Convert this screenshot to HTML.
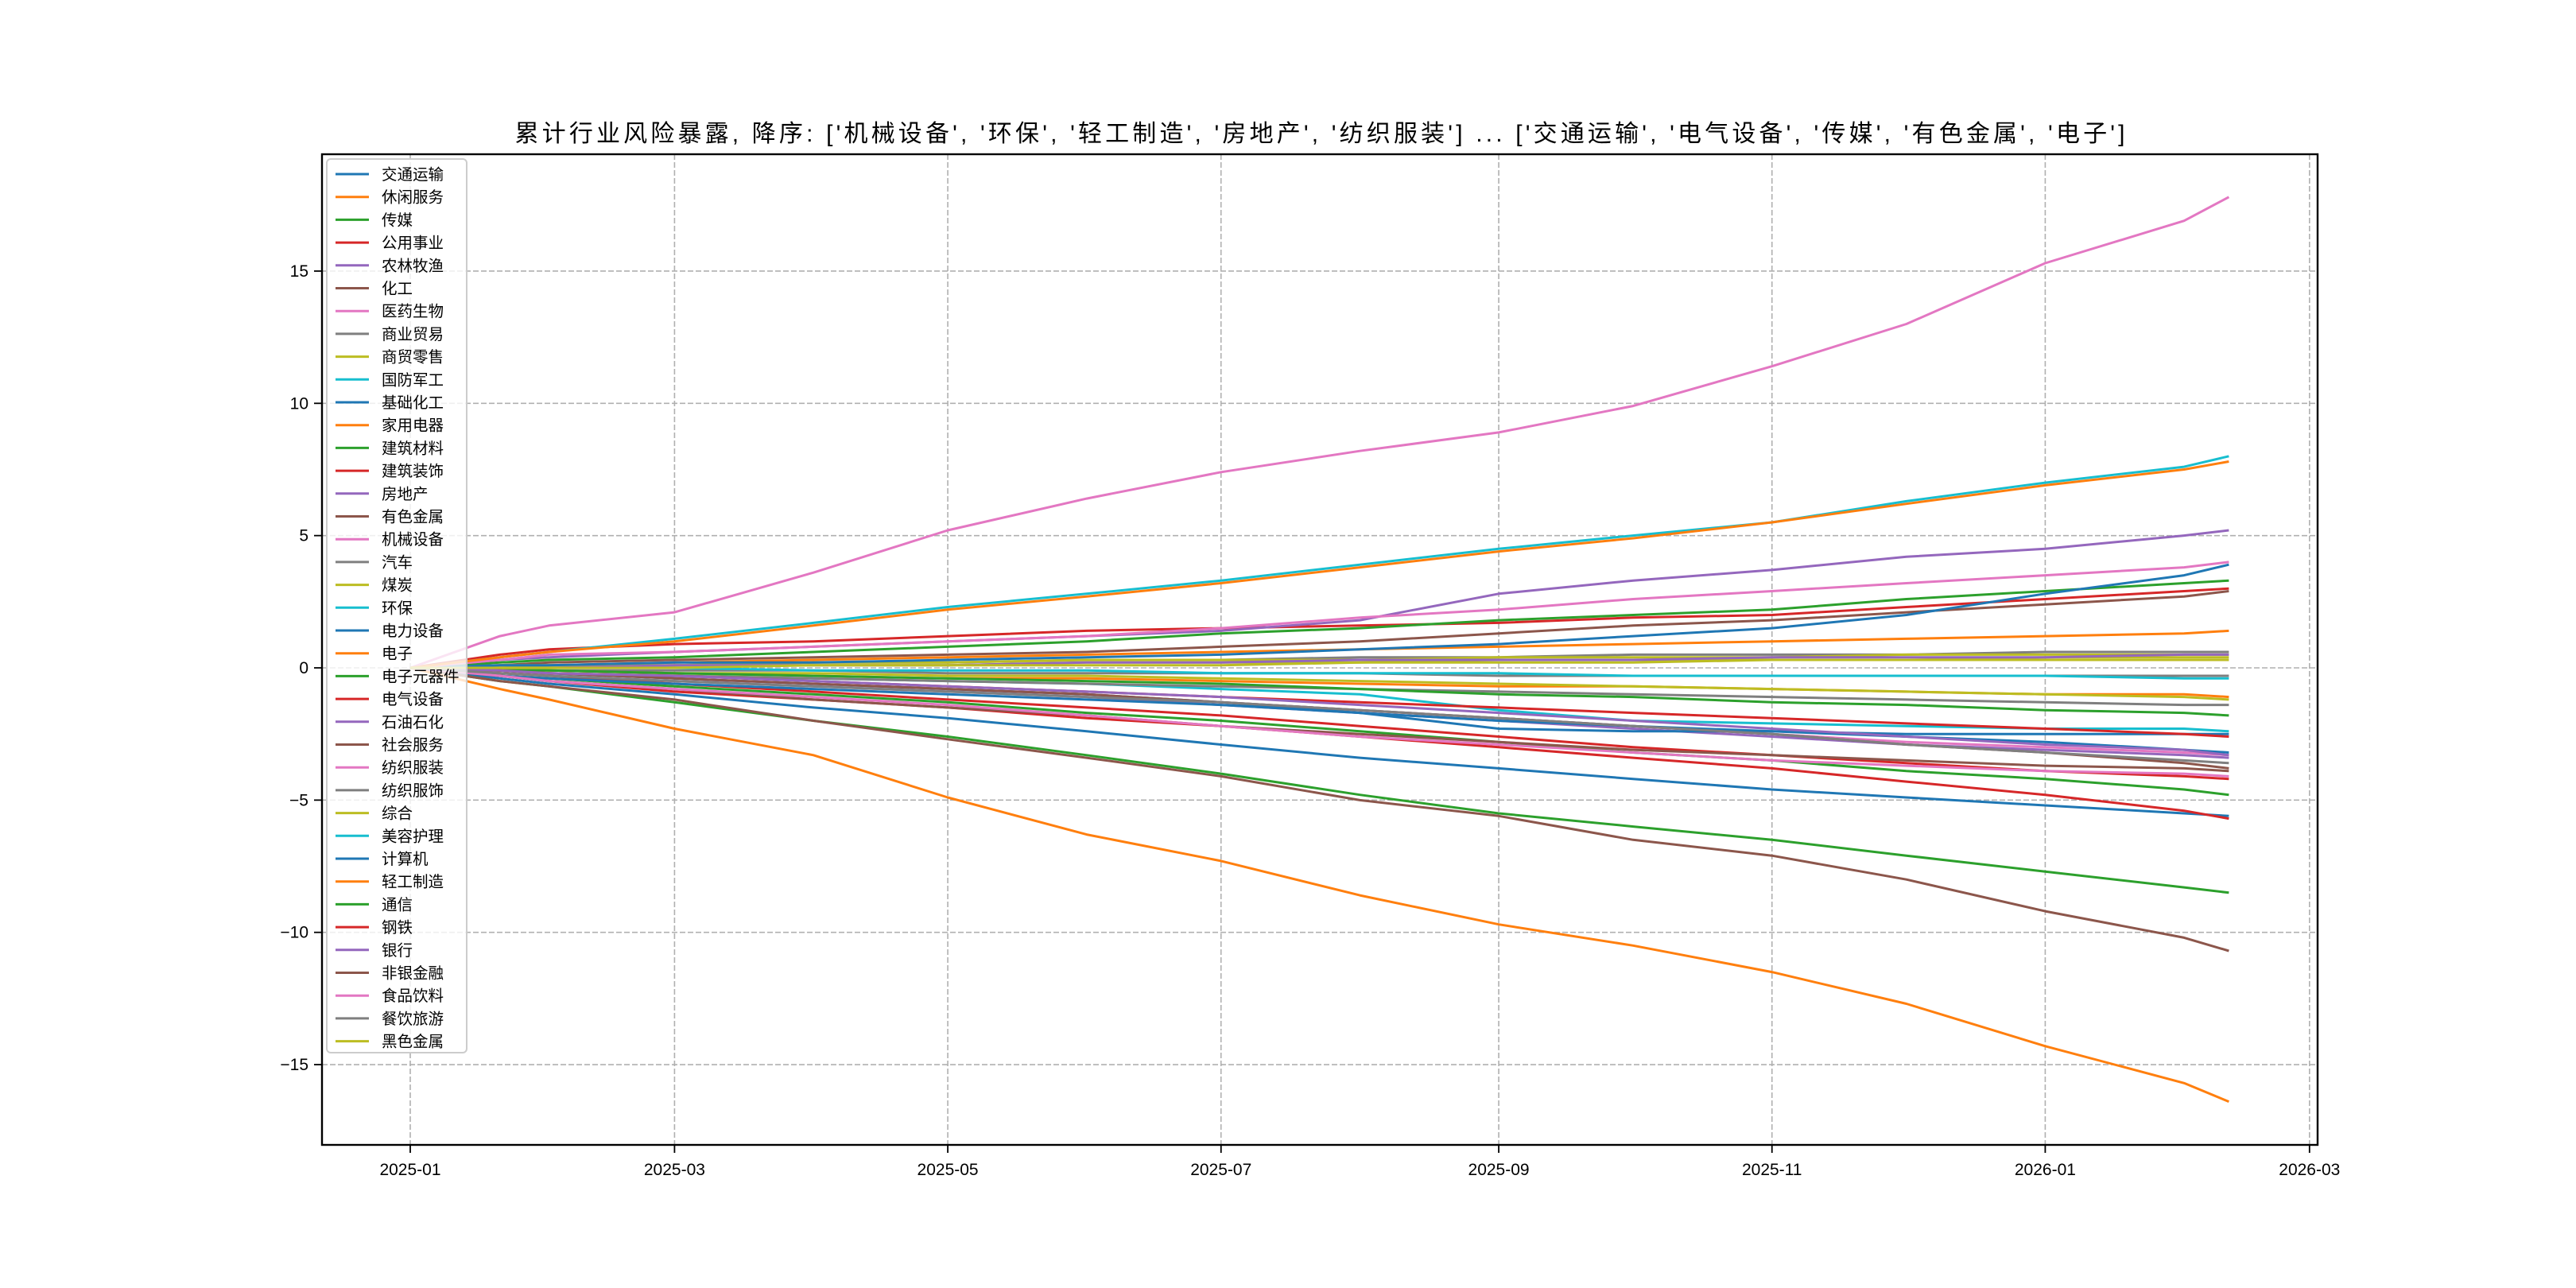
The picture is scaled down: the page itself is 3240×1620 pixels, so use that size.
<!DOCTYPE html>
<html><head><meta charset="utf-8"><style>
html,body{margin:0;padding:0;background:#fff;}
svg{display:block;font-family:"Liberation Sans","WenQuanYi Zen Hei","Noto Sans CJK SC",sans-serif;}
</style></head><body>
<svg id="chart" width="3240" height="1620" viewBox="0 0 3240 1620">
<rect x="0" y="0" width="3240" height="1620" fill="#fff"/>
<text x="1660" y="178" font-size="30" text-anchor="middle" textLength="2025">累计行业风险暴露, 降序: ['机械设备', '环保', '轻工制造', '房地产', '纺织服装'] ... ['交通运输', '电气设备', '传媒', '有色金属', '电子']</text>
<g id="grid"></g>
<g id="series" clip-path="url(#clip)"></g>
<defs><clipPath id="clip"><rect x="405" y="194" width="2510" height="1246"/></clipPath></defs>
<rect x="405" y="194" width="2510" height="1246" fill="none" stroke="#000" stroke-width="2.4"/>
<g id="ticks"></g>
<g id="legend"></g>
</svg>
<script>
const dayOffsets=[0,20,31,59,90,120,151,181,212,243,273,304,334,365,396,406];
const yTicks=[-15,-10,-5,0,5,10,15];
const yTickLabels=["−15","−10","−5","0","5","10","15"];
const xTickDays=[0,59,120,181,243,304,365,424];
const xTickLabels=["2025-01","2025-03","2025-05","2025-07","2025-09","2025-11","2026-01","2026-03"];
const names=["交通运输","休闲服务","传媒","公用事业","农林牧渔","化工","医药生物","商业贸易","商贸零售","国防军工","基础化工","家用电器","建筑材料","建筑装饰","房地产","有色金属","机械设备","汽车","煤炭","环保","电力设备","电子","电子元器件","电气设备","石油石化","社会服务","纺织服装","纺织服饰","综合","美容护理","计算机","轻工制造","通信","钢铁","银行","非银金融","食品饮料","餐饮旅游","黑色金属"];
const s交通运输=[0,-0.4,-0.6,-1.0,-1.5,-1.9,-2.4,-2.9,-3.4,-3.8,-4.2,-4.6,-4.9,-5.2,-5.5,-5.6];
const s休闲服务=[0,0.1,0.1,0.2,0.3,0.4,0.5,0.6,0.7,0.8,0.9,1.0,1.1,1.2,1.3,1.4];
const s传媒=[0,-0.5,-0.7,-1.3,-2.0,-2.6,-3.3,-4.0,-4.8,-5.5,-6.0,-6.5,-7.1,-7.7,-8.3,-8.5];
const s公用事业=[0,0.5,0.7,0.9,1.0,1.2,1.4,1.5,1.6,1.7,1.9,2.0,2.3,2.6,2.9,3.0];
const s农林牧渔=[0,-0.2,-0.3,-0.5,-0.7,-0.9,-1.1,-1.4,-1.7,-2.0,-2.3,-2.6,-2.9,-3.1,-3.3,-3.4];
const s化工=[0,0.1,0.2,0.3,0.4,0.5,0.6,0.8,1.0,1.3,1.6,1.8,2.1,2.4,2.7,2.9];
const s医药生物=[0,-0.1,-0.2,-0.4,-0.6,-0.8,-1.0,-1.3,-1.6,-1.9,-2.2,-2.5,-2.8,-3.0,-3.2,-3.3];
const s商业贸易=[0,0,0.1,0.1,0.2,0.2,0.3,0.3,0.4,0.4,0.5,0.5,0.5,0.6,0.6,0.6];
const s商贸零售=[0,0.1,0.1,0.1,0.2,0.2,0.3,0.3,0.3,0.4,0.4,0.4,0.5,0.5,0.5,0.5];
const s国防军工=[0,-0.1,-0.2,-0.3,-0.4,-0.5,-0.6,-0.8,-1.0,-1.6,-2.0,-2.1,-2.2,-2.3,-2.3,-2.4];
const s基础化工=[0,-0.1,-0.2,-0.4,-0.6,-0.8,-1.0,-1.3,-1.7,-2.3,-2.4,-2.4,-2.5,-2.5,-2.5,-2.5];
const s家用电器=[0,-0.1,-0.1,-0.2,-0.3,-0.4,-0.4,-0.5,-0.6,-0.7,-0.7,-0.8,-0.9,-1.0,-1.0,-1.1];
const s建筑材料=[0,0.2,0.3,0.4,0.6,0.8,1.0,1.3,1.5,1.8,2.0,2.2,2.6,2.9,3.2,3.3];
const s建筑装饰=[0,-0.2,-0.3,-0.6,-0.9,-1.2,-1.5,-1.8,-2.2,-2.6,-3.0,-3.3,-3.6,-3.9,-4.1,-4.2];
const s房地产=[0,0.3,0.4,0.6,0.8,1.0,1.2,1.4,1.8,2.8,3.3,3.7,4.2,4.5,5.0,5.2];
const s有色金属=[0,-0.5,-0.7,-1.2,-2.0,-2.7,-3.4,-4.1,-5.0,-5.6,-6.5,-7.1,-8.0,-9.2,-10.2,-10.7];
const s机械设备=[0,1.2,1.6,2.1,3.6,5.2,6.4,7.4,8.2,8.9,9.9,11.4,13.0,15.3,16.9,17.8];
const s汽车=[0,0,-0.1,-0.1,-0.1,-0.2,-0.2,-0.2,-0.2,-0.3,-0.3,-0.3,-0.3,-0.3,-0.3,-0.3];
const s煤炭=[0,0,0,0.1,0.1,0.1,0.2,0.2,0.2,0.3,0.3,0.3,0.3,0.4,0.4,0.4];
const s环保=[0,0.4,0.6,1.1,1.7,2.3,2.8,3.3,3.9,4.5,5.0,5.5,6.3,7.0,7.6,8.0];
const s电力设备=[0,0.1,0.1,0.2,0.2,0.3,0.4,0.5,0.7,0.9,1.2,1.5,2.0,2.8,3.5,3.9];
const s电子=[0,-0.8,-1.2,-2.3,-3.3,-4.9,-6.3,-7.3,-8.6,-9.7,-10.5,-11.5,-12.7,-14.3,-15.7,-16.4];
const s电子元器件=[0,-0.3,-0.4,-0.7,-1.0,-1.3,-1.7,-2.0,-2.4,-2.8,-3.2,-3.5,-3.9,-4.2,-4.6,-4.8];
const s电气设备=[0,-0.3,-0.5,-0.9,-1.2,-1.5,-1.9,-2.2,-2.6,-3.0,-3.4,-3.8,-4.3,-4.8,-5.4,-5.7];
const s石油石化=[0,0,0,0.1,0.1,0.1,0.2,0.2,0.3,0.3,0.3,0.4,0.4,0.4,0.5,0.5];
const s社会服务=[0,-0.1,-0.2,-0.4,-0.6,-0.8,-1.0,-1.3,-1.6,-1.9,-2.2,-2.5,-2.9,-3.2,-3.6,-3.8];
const s纺织服装=[0,0.3,0.5,0.6,0.8,1.0,1.2,1.5,1.9,2.2,2.6,2.9,3.2,3.5,3.8,4.0];
const s纺织服饰=[0,-0.1,-0.2,-0.3,-0.4,-0.5,-0.6,-0.7,-0.8,-0.9,-1.0,-1.1,-1.2,-1.3,-1.4,-1.4];
const s综合=[0,-0.1,-0.1,-0.2,-0.2,-0.3,-0.3,-0.4,-0.5,-0.6,-0.7,-0.8,-0.9,-1.0,-1.1,-1.2];
const s美容护理=[0,0,0,0,-0.1,-0.1,-0.1,-0.2,-0.2,-0.2,-0.3,-0.3,-0.3,-0.3,-0.4,-0.4];
const s计算机=[0,-0.3,-0.4,-0.6,-0.8,-1.0,-1.2,-1.4,-1.7,-2.0,-2.2,-2.4,-2.6,-2.8,-3.1,-3.2];
const s轻工制造=[0,0.4,0.6,1.0,1.6,2.2,2.7,3.2,3.8,4.4,4.9,5.5,6.2,6.9,7.5,7.8];
const s通信=[0,-0.1,-0.1,-0.2,-0.3,-0.4,-0.5,-0.6,-0.8,-1.0,-1.1,-1.3,-1.4,-1.6,-1.7,-1.8];
const s钢铁=[0,-0.1,-0.2,-0.3,-0.5,-0.7,-0.9,-1.1,-1.3,-1.5,-1.7,-1.9,-2.1,-2.3,-2.5,-2.6];
const s银行=[0,-0.1,-0.2,-0.3,-0.5,-0.7,-0.9,-1.1,-1.4,-1.7,-2.0,-2.3,-2.6,-2.9,-3.1,-3.3];
const s非银金融=[0,-0.3,-0.5,-0.8,-1.2,-1.5,-1.8,-2.2,-2.5,-2.8,-3.1,-3.3,-3.5,-3.7,-3.8,-3.9];
const s食品饮料=[0,-0.3,-0.5,-0.8,-1.1,-1.4,-1.8,-2.2,-2.6,-2.9,-3.2,-3.5,-3.7,-3.9,-4.0,-4.1];
const s餐饮旅游=[0,-0.2,-0.3,-0.5,-0.7,-0.9,-1.1,-1.3,-1.6,-1.9,-2.2,-2.5,-2.9,-3.2,-3.5,-3.6];
const s黑色金属=[0,0,0,0,0.1,0.1,0.1,0.1,0.2,0.2,0.2,0.3,0.3,0.3,0.3,0.3];
const seriesValues=[s交通运输,s休闲服务,s传媒,s公用事业,s农林牧渔,s化工,s医药生物,s商业贸易,s商贸零售,s国防军工,s基础化工,s家用电器,s建筑材料,s建筑装饰,s房地产,s有色金属,s机械设备,s汽车,s煤炭,s环保,s电力设备,s电子,s电子元器件,s电气设备,s石油石化,s社会服务,s纺织服装,s纺织服饰,s综合,s美容护理,s计算机,s轻工制造,s通信,s钢铁,s银行,s非银金融,s食品饮料,s餐饮旅游,s黑色金属];

const palette=["#1f77b4","#ff7f0e","#2ca02c","#d62728","#9467bd","#8c564b","#e377c2","#7f7f7f","#bcbd22","#17becf"];
const NS="http://www.w3.org/2000/svg";
function xScale(d){return 516+d*5.634;}
function yScale(v){return 840-v*33.27;}
function mk(tag,attrs,parent){const e=document.createElementNS(NS,tag);for(const k in attrs)e.setAttribute(k,attrs[k]);parent.appendChild(e);return e;}
const grid=document.getElementById('grid'),ticks=document.getElementById('ticks'),ser=document.getElementById('series'),leg=document.getElementById('legend');
yTicks.forEach((v,i)=>{
  const y=yScale(v);
  const gl=mk('line',{x1:405,x2:2915,y1:y,y2:y,stroke:'#b0b0b0','stroke-width':1.6,'stroke-dasharray':'7,3'},grid);
  
  
  const tk=mk('line',{x1:395,x2:405,y1:y,y2:y,stroke:'#000','stroke-width':1.8},ticks);
  
  
  const t=mk('text',{x:388,y:y+7,'font-size':21,'text-anchor':'end'},ticks);
  t.textContent=yTickLabels[i];
  
  
});
xTickDays.forEach((d,i)=>{
  const x=xScale(d);
  const gl=mk('line',{x1:x,x2:x,y1:194,y2:1440,stroke:'#b0b0b0','stroke-width':1.6,'stroke-dasharray':'7,3'},grid);
  
  
  const tk=mk('line',{x1:x,x2:x,y1:1440,y2:1450,stroke:'#000','stroke-width':1.8},ticks);
  
  
  const t=mk('text',{x:x,y:1478,'font-size':21,'text-anchor':'middle'},ticks);
  t.textContent=xTickLabels[i];
  
  
});
seriesValues.forEach((vals,i)=>{
  const pts=vals.map((v,j)=>xScale(dayOffsets[j]).toFixed(1)+','+yScale(v).toFixed(1)).join(' ');
  const p=mk('polyline',{points:pts,fill:'none',stroke:palette[i%10],'stroke-width':3,'stroke-linejoin':'round'},ser);
  
  
});
const box=mk('rect',{x:411,y:200,width:176,height:1124,rx:5,fill:'#fff','fill-opacity':0.8,stroke:'#cccccc','stroke-width':2},leg);


names.forEach((n,i)=>{
  const y=219+i*28.7;
  const l=mk('line',{x1:422,x2:464,y1:y,y2:y,stroke:palette[i%10],'stroke-width':3},leg);
  
  
  const t=mk('text',{x:480,y:y+7,'font-size':19.5},leg);
  t.textContent=n;
  
  
});
</script>
</body></html>
